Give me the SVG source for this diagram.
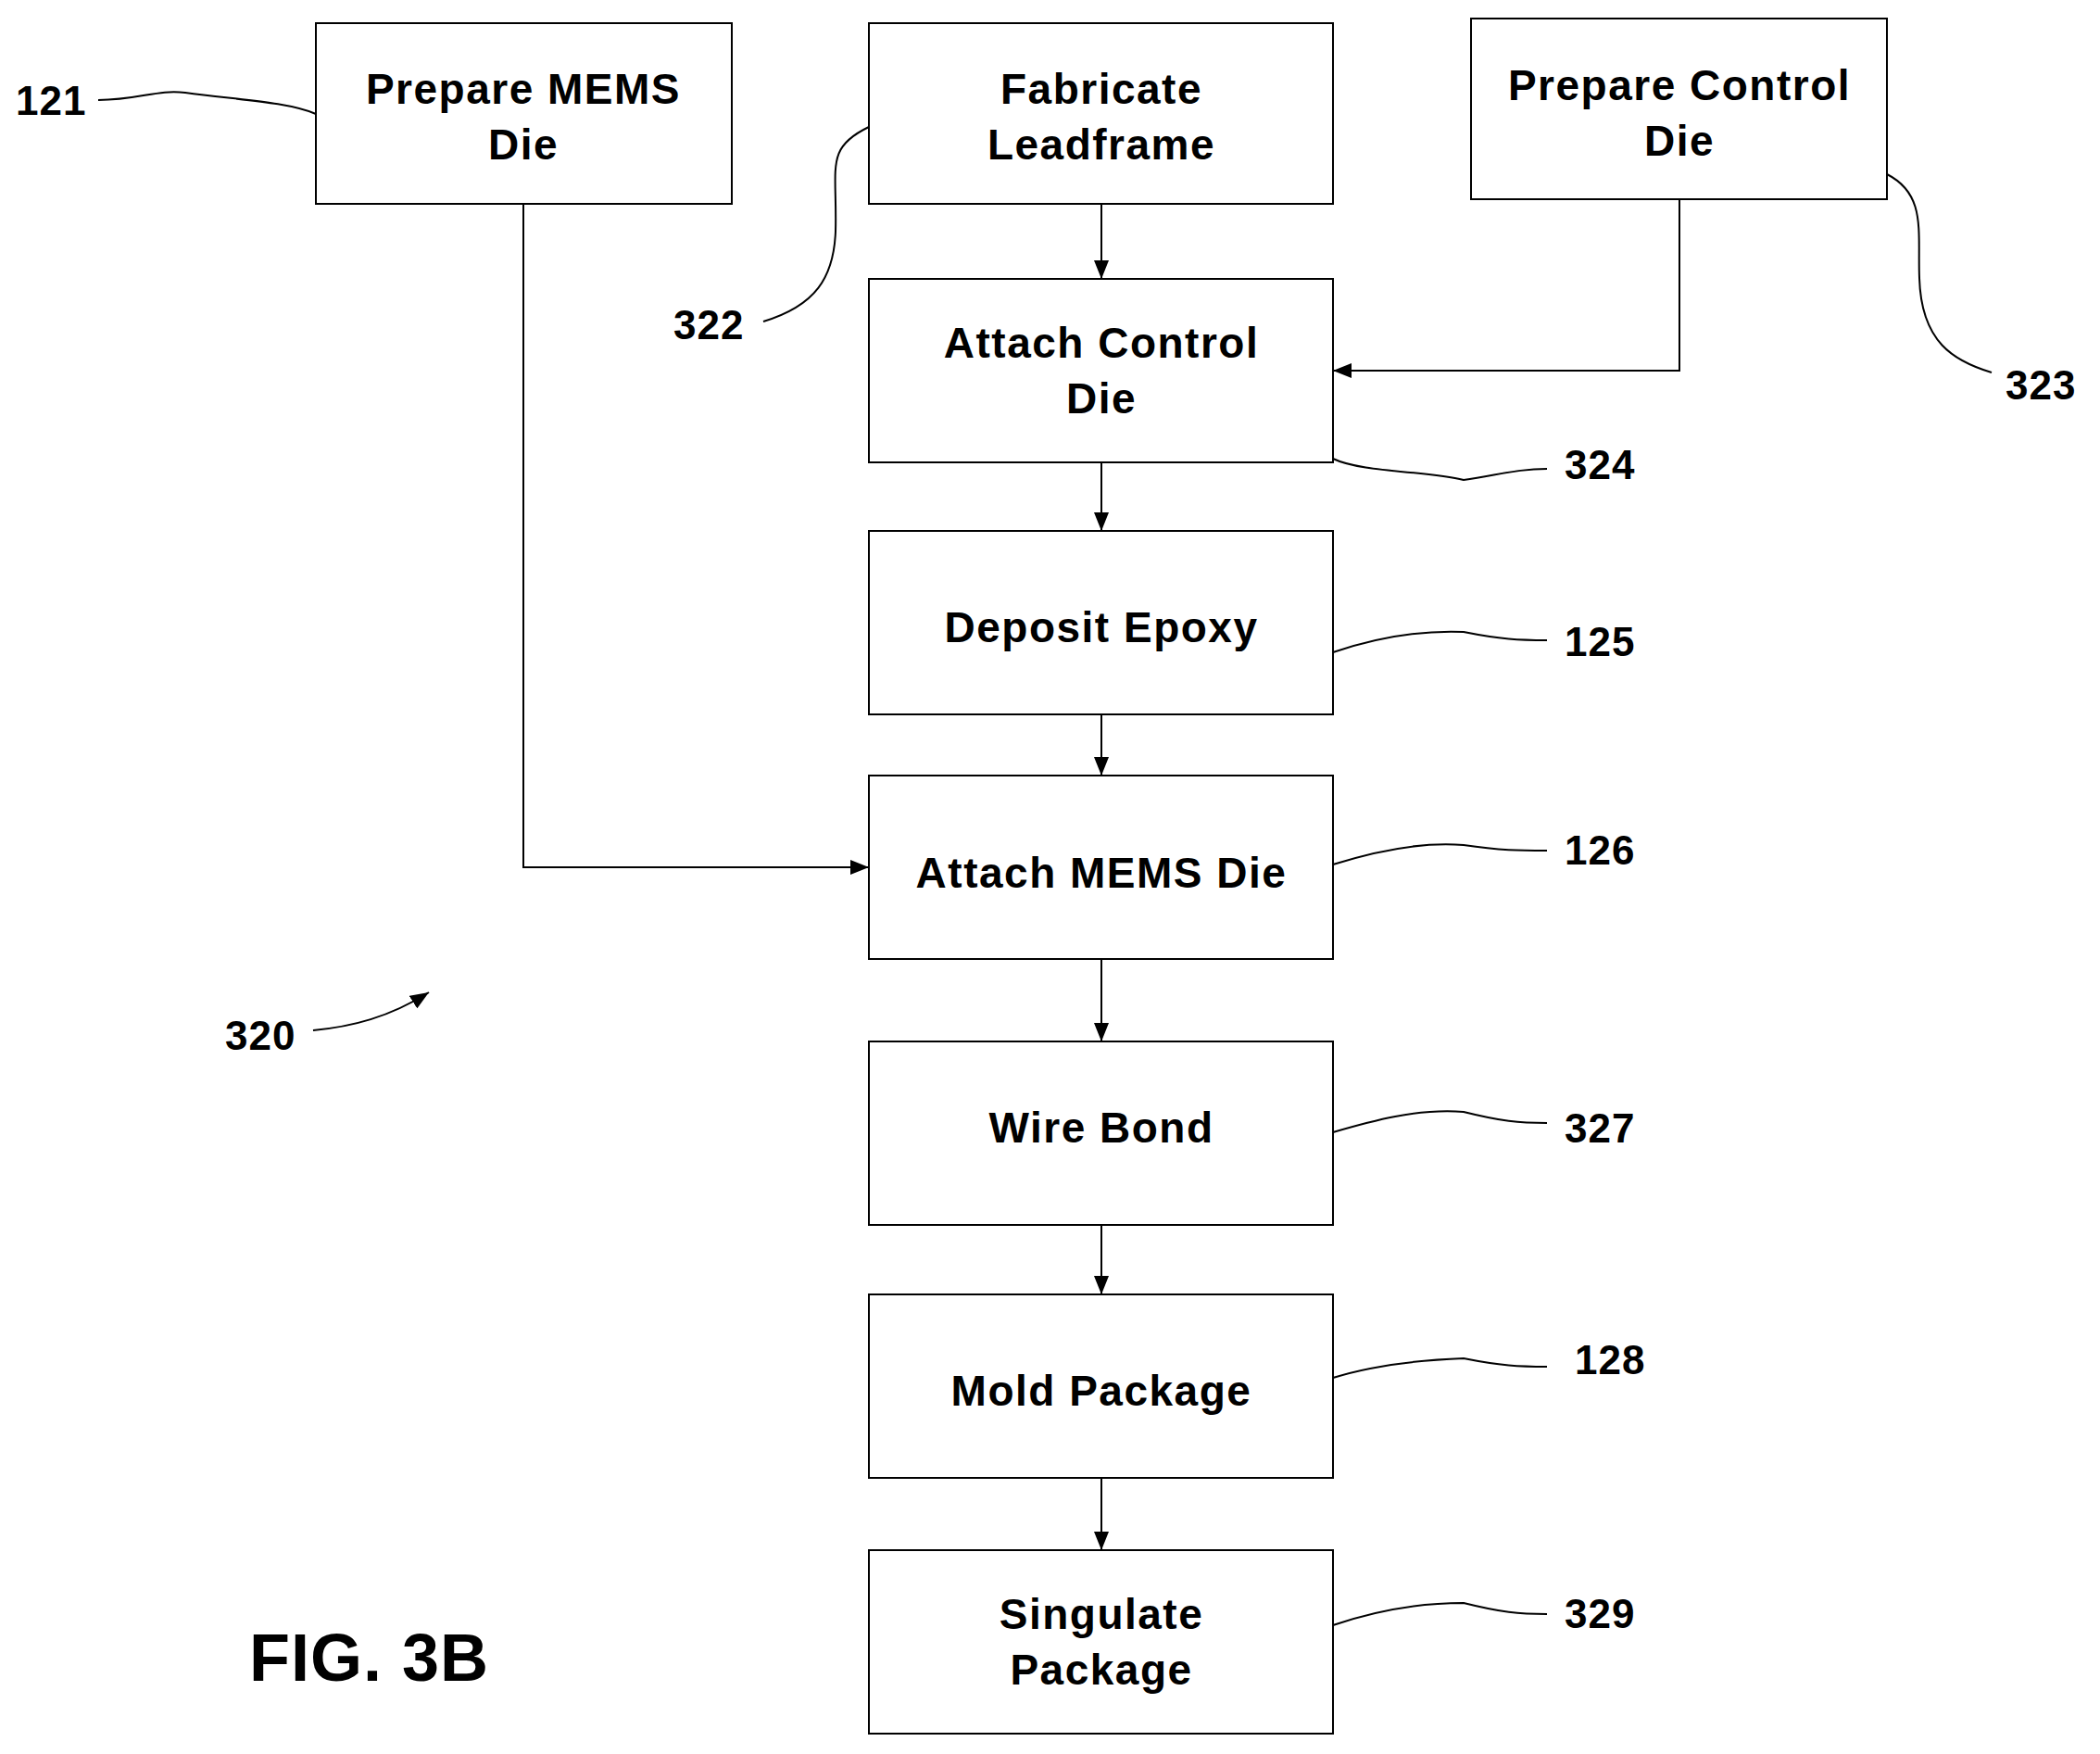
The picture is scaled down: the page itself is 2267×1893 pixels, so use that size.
<svg xmlns="http://www.w3.org/2000/svg" width="2267" height="1893" viewBox="0 0 2267 1893">
<style>
.b{fill:#fff;stroke:#000;stroke-width:2}
.t{font-family:"Liberation Sans",Arial,sans-serif;font-weight:bold;font-size:46px;letter-spacing:1.5px;text-anchor:middle;fill:#000}
.l{font-family:"Liberation Sans",Arial,sans-serif;font-weight:bold;font-size:44px;letter-spacing:1px;fill:#000}
.c{fill:none;stroke:#000;stroke-width:2}
</style>
<defs><marker id="a" markerWidth="20" markerHeight="16" refX="20" refY="8" orient="auto" markerUnits="userSpaceOnUse"><path d="M0,0L20,8L0,16z" fill="#000"/></marker></defs>
<rect width="2267" height="1893" fill="#fff"/>
<g id="n121"><rect class="b" x="341" y="25" width="449" height="195"/><text class="t" x="565" y="112">Prepare MEMS</text><text class="t" x="565" y="172">Die</text></g>
<g id="n322"><rect class="b" x="938" y="25" width="501" height="195"/><text class="t" x="1189" y="112">Fabricate</text><text class="t" x="1189" y="172">Leadframe</text></g>
<g id="n323"><rect class="b" x="1588" y="20" width="449" height="195"/><text class="t" x="1813" y="108">Prepare Control</text><text class="t" x="1813" y="168">Die</text></g>
<g id="n324"><rect class="b" x="938" y="301" width="501" height="198"/><text class="t" x="1189" y="386">Attach Control</text><text class="t" x="1189" y="446">Die</text></g>
<g id="n125"><rect class="b" x="938" y="573" width="501" height="198"/><text class="t" x="1189" y="693">Deposit Epoxy</text></g>
<g id="n126"><rect class="b" x="938" y="837" width="501" height="198"/><text class="t" x="1189" y="958">Attach MEMS Die</text></g>
<g id="n327"><rect class="b" x="938" y="1124" width="501" height="198"/><text class="t" x="1189" y="1233">Wire Bond</text></g>
<g id="n128"><rect class="b" x="938" y="1397" width="501" height="198"/><text class="t" x="1189" y="1517">Mold Package</text></g>
<g id="n329"><rect class="b" x="938" y="1673" width="501" height="198"/><text class="t" x="1189" y="1758">Singulate</text><text class="t" x="1189" y="1818">Package</text></g>
<g id="connectors">
<path class="c" d="M565,220V936H938" marker-end="url(#a)"/>
<path class="c" d="M1813,215V400H1439" marker-end="url(#a)"/>
<path class="c" d="M1189,220V301" marker-end="url(#a)"/>
<path class="c" d="M1189,499V573" marker-end="url(#a)"/>
<path class="c" d="M1189,771V837" marker-end="url(#a)"/>
<path class="c" d="M1189,1035V1124" marker-end="url(#a)"/>
<path class="c" d="M1189,1322V1397" marker-end="url(#a)"/>
<path class="c" d="M1189,1595V1673" marker-end="url(#a)"/>
</g>
<g id="labels">
<text class="l" x="17" y="124">121</text>
<path class="c" d="M106,108C150,108 170,96 200,100C260,108 310,110 341,123"/>
<text class="l" x="727" y="366">322</text>
<path class="c" d="M824,347C880,330 900,300 902,250C904,180 890,160 938,137"/>
<text class="l" x="2165" y="431">323</text>
<path class="c" d="M2037,188C2080,210 2070,250 2072,300C2074,370 2110,390 2150,402"/>
<text class="l" x="1689" y="517">324</text>
<path class="c" d="M1439,495C1470,510 1540,508 1580,518C1620,512 1640,506 1670,506"/>
<text class="l" x="1689" y="708">125</text>
<path class="c" d="M1439,704C1480,690 1530,680 1580,682C1620,690 1640,691 1670,691"/>
<text class="l" x="1689" y="933">126</text>
<path class="c" d="M1439,933C1480,920 1530,908 1580,912C1620,918 1640,918 1670,918"/>
<text class="l" x="1689" y="1233">327</text>
<path class="c" d="M1439,1222C1480,1210 1530,1196 1580,1200C1620,1210 1640,1212 1670,1212"/>
<text class="l" x="1700" y="1483">128</text>
<path class="c" d="M1439,1487C1480,1474 1530,1468 1580,1466C1620,1474 1640,1475 1670,1475"/>
<text class="l" x="1689" y="1757">329</text>
<path class="c" d="M1439,1754C1480,1740 1530,1730 1580,1730C1620,1740 1640,1742 1670,1742"/>
<text class="l" x="243" y="1133">320</text>
<path class="c" d="M338,1112C380,1108 420,1098 463,1071" marker-end="url(#a)"/>
<text class="l" x="269" y="1814" style="font-size:72px">FIG. 3B</text>
</g>
</svg>
